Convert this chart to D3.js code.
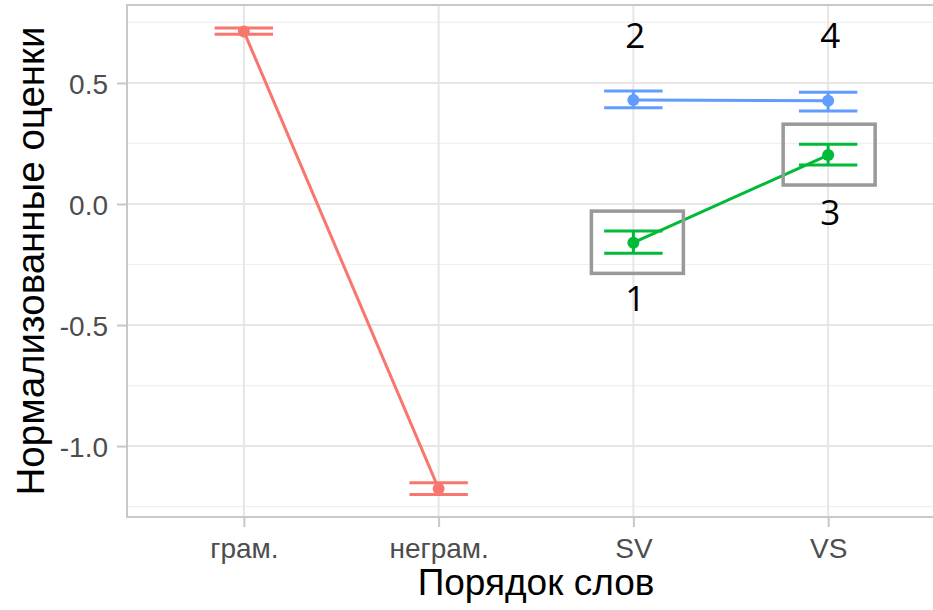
<!DOCTYPE html>
<html><head><meta charset="utf-8">
<script src="https://cdn.jsdelivr.net/npm/d3@7"></script>
<style>body{margin:0;background:#fff}svg{display:block}</style>
</head><body>
<svg id="c" width="933" height="610"></svg>
<script>
const categories = ["грам.", "неграм.", "SV", "VS"];
const yTicks = [-1.0, -0.5, 0.0, 0.5];
const yMinor = [-1.25, -0.75, -0.25, 0.25, 0.75];
const redCats = ["грам.", "неграм."];
const redMean = [0.713, -1.176];
const redLow = [0.701, -1.200];
const redHigh = [0.727, -1.152];
const blueCats = ["SV", "VS"];
const blueMean = [0.430, 0.426];
const blueLow = [0.398, 0.384];
const blueHigh = [0.467, 0.462];
const greenCats = ["SV", "VS"];
const greenMean = [-0.160, 0.202];
const greenLow = [-0.204, 0.161];
const greenHigh = [-0.112, 0.247];
const annLabels = ["1", "2", "3", "4"];

const svg = d3.select("#c");
const L = 127, R = 945, T = 5, B = 517;
const FONT = "Liberation Sans, Arial, sans-serif";
const x = d3.scalePoint().domain(categories).range([L, R]).padding(0.6);
const y = d3.scaleLinear().domain([-1.293, 0.822]).range([B, T]);

// grid
const g = svg.append("g");
g.selectAll(".minor").data(yMinor).join("line")
  .attr("x1", L).attr("x2", R).attr("y1", d => y(d)).attr("y2", d => y(d))
  .attr("stroke", "#f0f0f0").attr("stroke-width", 1.2);
g.selectAll(".major").data(yTicks).join("line")
  .attr("x1", L).attr("x2", R).attr("y1", d => y(d)).attr("y2", d => y(d))
  .attr("stroke", "#e6e6e6").attr("stroke-width", 2);
g.selectAll(".vmaj").data(categories).join("line")
  .attr("x1", d => x(d)).attr("x2", d => x(d)).attr("y1", T).attr("y2", B)
  .attr("stroke", "#e6e6e6").attr("stroke-width", 2);

// panel border
svg.append("rect").attr("x", L).attr("y", T).attr("width", R - L).attr("height", B - T)
  .attr("fill", "none").attr("stroke", "#c8c8c8").attr("stroke-width", 2);

// axes
const ax = svg.append("g").attr("transform", `translate(0,${B})`)
  .call(d3.axisBottom(x).tickSize(10).tickPadding(6));
const ay = svg.append("g").attr("transform", `translate(${L},0)`)
  .call(d3.axisLeft(y).tickValues(yTicks).tickFormat(d => d3.format(".1f")(d).replace("−", "-")).tickSize(10).tickPadding(9));
[ax, ay].forEach(a => {
  a.select(".domain").remove();
  a.selectAll(".tick line").attr("stroke", "#c8c8c8").attr("stroke-width", 2);
  a.selectAll(".tick text").attr("fill", "#4d4d4d").attr("font-family", FONT).attr("font-size", 28);
});
ax.selectAll(".tick text").attr("y", 41).attr("dy", 0);
ay.selectAll(".tick text").attr("dy", "0.36em");

svg.append("text").attr("x", (L + R) / 2).attr("y", 595).attr("text-anchor", "middle")
  .attr("font-family", FONT).attr("font-size", 37).attr("fill", "#000")
  .text("Порядок слов");
svg.append("text").attr("transform", `translate(44,${(T + B) / 2}) rotate(-90)`).attr("text-anchor", "middle")
  .attr("font-family", FONT).attr("font-size", 38.5).attr("fill", "#000")
  .text("Нормализованные оценки");

function series(cats, mean, low, high, color) {
  const data = cats.map((c, i) => ({c, m: mean[i], lo: low[i], hi: high[i]}));
  const sg = svg.append("g");
  sg.append("path").datum(data)
    .attr("d", d3.line().x(d => x(d.c)).y(d => y(d.m)))
    .attr("fill", "none").attr("stroke", color).attr("stroke-width", 3);
  const hw = x.step() * 0.15;
  data.forEach(d => {
    [d.lo, d.hi].forEach(v => {
      sg.append("line").attr("x1", x(d.c) - hw).attr("x2", x(d.c) + hw)
        .attr("y1", y(v)).attr("y2", y(v)).attr("stroke", color).attr("stroke-width", 3);
    });
    sg.append("line").attr("x1", x(d.c)).attr("x2", x(d.c))
      .attr("y1", y(d.lo)).attr("y2", y(d.hi)).attr("stroke", color).attr("stroke-width", 3);
    sg.append("circle").attr("cx", x(d.c)).attr("cy", y(d.m)).attr("r", 6).attr("fill", color);
  });
  return data;
}
series(redCats, redMean, redLow, redHigh, "#F8766D");
series(blueCats, blueMean, blueLow, blueHigh, "#619CFF");
const gd = series(greenCats, greenMean, greenLow, greenHigh, "#00BA38");

// annotation boxes around green points
gd.forEach((d, i) => {
  svg.append("rect")
    .attr("x", x(d.c) - 42 + i * -3).attr("y", y(d.hi) - 20)
    .attr("width", 92).attr("height", y(d.lo) - y(d.hi) + 40)
    .attr("fill", "none").attr("stroke", "#999").attr("stroke-width", 3.5);
});

// annotation numbers
const annPos = [
  {c: "SV", v: greenLow[0], dy: 58},
  {c: "SV", v: blueHigh[0], dy: -43},
  {c: "VS", v: greenLow[1], dy: 60},
  {c: "VS", v: blueHigh[1], dy: -44}
];
annLabels.forEach((t, i) => {
  const p = annPos[i];
  svg.append("text").attr("x", x(p.c) + 2).attr("y", y(p.v) + p.dy)
    .attr("text-anchor", "middle").attr("font-family", "Open Sans, sans-serif")
    .attr("font-size", 35).attr("fill", "#000").text(t);
});
</script>
</body></html>
